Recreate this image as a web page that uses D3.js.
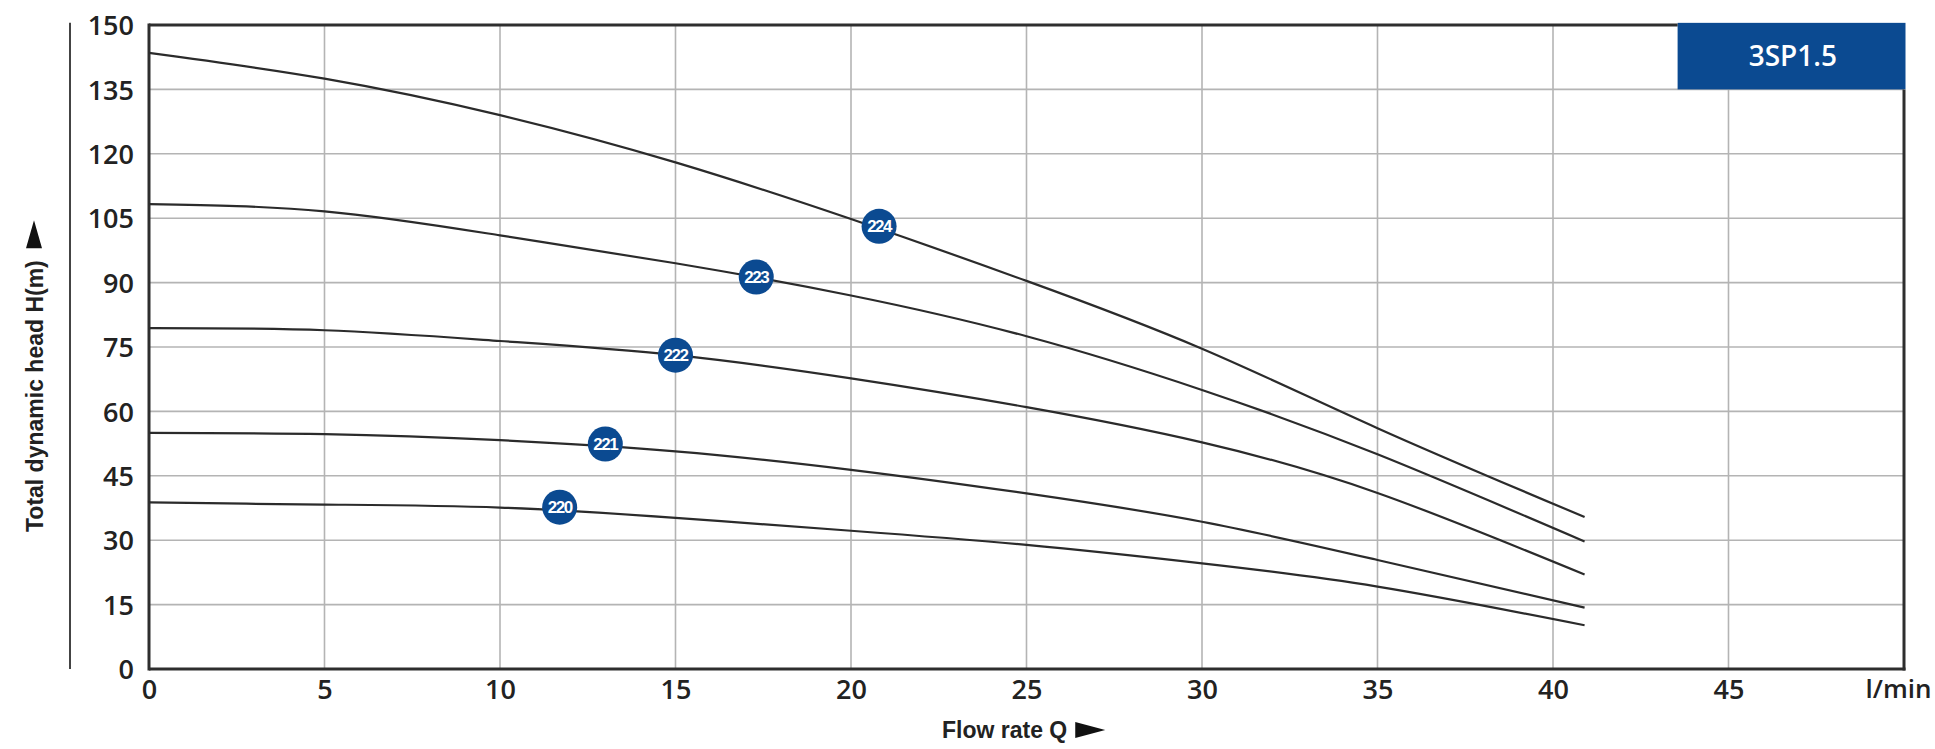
<!DOCTYPE html>
<html>
<head>
<meta charset="utf-8">
<script src="https://cdn.jsdelivr.net/npm/d3@7"></script>
<style>
  html, body { margin: 0; padding: 0; background: #fff; }
  svg { display: block; }
</style>
</head>
<body>
<svg id="chart" width="1935" height="749"></svg>
<script>
// ---- data ----
const modelName = "3SP1.5";
const xTicks = [0, 5, 10, 15, 20, 25, 30, 35, 40, 45, 50];
const xTickLabels = ["0", "5", "10", "15", "20", "25", "30", "35", "40", "45", "l/min"];
const yTicks = [0, 15, 30, 45, 60, 75, 90, 105, 120, 135, 150];
const xTitle = "Flow rate Q";
const yTitle = "Total dynamic head H(m)";

const seriesNames = ["220", "221", "222", "223", "224"];
const flow = [0, 5, 10, 15, 20, 25, 30, 35, 40.9];
const head220 = [38.8, 38.3, 37.6, 35.2, 32.2, 28.9, 24.6, 19.2, 10.2];
const head221 = [55.0, 54.7, 53.3, 50.7, 46.4, 40.9, 34.3, 25.4, 14.3];
const head222 = [79.4, 78.9, 76.4, 73.1, 67.7, 61.0, 52.8, 41.0, 22.0];
const head223 = [108.3, 106.6, 101.0, 94.5, 87.0, 77.5, 65.0, 50.0, 29.7];
const head224 = [143.5, 137.5, 129.0, 118.0, 104.8, 90.4, 74.6, 56.1, 35.4];
const labelFlow = [11.7, 13.0, 15.0, 17.3, 20.8];
const labelHead = [37.7, 52.4, 73.1, 91.3, 103.1];

// ---- layout ----
const svg = d3.select("#chart");
const x = d3.scaleLinear().domain([0, 50]).range([149, 1904]);
const y = d3.scaleLinear().domain([0, 150]).range([669, 25]);

const blue = "#0b4a91";
const frameColor = "#2e2e2e";
const gridColor = "#b4b4b4";

// gridlines
const grid = svg.append("g");
grid.selectAll(".vg").data(xTicks.filter(d => d > 0 && d < 50)).join("line")
  .attr("x1", d => x(d)).attr("x2", d => x(d))
  .attr("y1", y(0)).attr("y2", y(150))
  .attr("stroke", gridColor).attr("stroke-width", 1.6);
grid.selectAll(".hg").data(yTicks.filter(d => d > 0 && d < 150)).join("line")
  .attr("x1", x(0)).attr("x2", x(50))
  .attr("y1", d => y(d)).attr("y2", d => y(d))
  .attr("stroke", gridColor).attr("stroke-width", 1.6);

// model box
const boxX0 = x(43.55), boxX1 = x(50), boxY0 = y(150.5), boxY1 = y(135);
svg.append("rect")
  .attr("x", boxX0).attr("y", boxY0)
  .attr("width", boxX1 - boxX0 + 1.5).attr("height", boxY1 - boxY0)
  .attr("fill", blue);
svg.append("text")
  .attr("x", (boxX0 + boxX1) / 2 + 2).attr("y", (boxY0 + boxY1) / 2 + 10)
  .attr("text-anchor", "middle")
  .attr("font-family", "'Open Sans', sans-serif")
  .attr("font-weight", 600).attr("font-size", 28)
  .attr("fill", "#fff")
  .text(modelName);

// frame
const frame = svg.append("g").attr("stroke", frameColor).attr("stroke-width", 3).attr("fill", "none");
frame.append("line").attr("x1", x(0)).attr("x2", x(0)).attr("y1", y(150) - 1.5).attr("y2", y(0) + 1.5);
frame.append("line").attr("x1", x(0)).attr("x2", x(50) + 1.5).attr("y1", y(0)).attr("y2", y(0));
frame.append("line").attr("x1", x(0)).attr("x2", boxX0).attr("y1", y(150)).attr("y2", y(150));
frame.append("line").attr("x1", x(50)).attr("x2", x(50)).attr("y1", boxY1).attr("y2", y(0) + 1.5);

// separate y-axis line
svg.append("line")
  .attr("x1", 70).attr("x2", 70).attr("y1", y(150.5)).attr("y2", y(0))
  .attr("stroke", "#444").attr("stroke-width", 2);

// curves
const allHeads = [head220, head221, head222, head223, head224];
const line = d3.line()
  .x((d, i) => x(flow[i]))
  .y(d => y(d))
  .curve(d3.curveNatural);
svg.append("g").selectAll("path").data(allHeads).join("path")
  .attr("d", d => line(d))
  .attr("fill", "none")
  .attr("stroke", "#2b2b2b")
  .attr("stroke-width", 2.2);

// labels on curves
const lab = svg.append("g").selectAll("g").data(seriesNames).join("g")
  .attr("transform", (d, i) => `translate(${x(labelFlow[i])},${y(labelHead[i])})`);
lab.append("circle").attr("r", 17.5).attr("fill", blue);
lab.append("text")
  .attr("text-anchor", "middle").attr("dy", 6)
  .attr("font-family", "'Liberation Sans', Arial, sans-serif")
  .attr("font-weight", "bold").attr("font-size", 17)
  .attr("letter-spacing", -1.5)
  .attr("fill", "#fff")
  .text(d => d);

// axes
const tickFont = "'Open Sans', sans-serif";
const yAxis = svg.append("g").attr("transform", `translate(${x(0) - 15},0)`)
  .call(d3.axisLeft(y).tickValues(yTicks).tickSize(0).tickPadding(0).tickFormat(d3.format("d")));
yAxis.select(".domain").remove();
yAxis.selectAll("text")
  .attr("font-family", tickFont).attr("font-weight", 600).attr("font-size", 27)
  .attr("fill", "#222").attr("dy", "0.36em");

const xAxis = svg.append("g").attr("transform", `translate(0,${y(0) + 11})`)
  .call(d3.axisBottom(x).tickValues(xTicks).tickSize(0).tickPadding(0)
    .tickFormat((d, i) => xTickLabels[i]));
xAxis.select(".domain").remove();
xAxis.selectAll("text")
  .attr("font-family", tickFont).attr("font-weight", 600).attr("font-size", 27)
  .attr("fill", "#222").attr("dy", "0.71em");
// unit label sits at the right end, kept inside the page
xAxis.selectAll(".tick").filter(d => d === 50).select("text")
  .attr("text-anchor", "end").attr("x", 1931 - x(50)).attr("font-size", 26);

// axis titles
const titleFont = "'Liberation Sans', Arial, sans-serif";
const xt = svg.append("text")
  .attr("x", 942).attr("y", 738)
  .attr("font-family", titleFont).attr("font-weight", "bold").attr("font-size", 23)
  .attr("fill", "#222")
  .text(xTitle);
const xtw = xt.node().getComputedTextLength();
svg.append("path")
  .attr("d", `M${942 + xtw + 8},${722} L${942 + xtw + 38},${730} L${942 + xtw + 8},${738} Z`)
  .attr("fill", "#111");

const ytg = svg.append("g").attr("transform", `translate(43,532) rotate(-90)`);
const yt = ytg.append("text")
  .attr("x", 0).attr("y", 0)
  .attr("font-family", titleFont).attr("font-weight", "bold").attr("font-size", 23)
  .attr("fill", "#222")
  .text(yTitle);
const ytw = yt.node().getComputedTextLength();
ytg.append("path")
  .attr("d", `M${ytw + 12},${-1} L${ytw + 40},${-9} L${ytw + 12},${-17} Z`)
  .attr("fill", "#111");
</script>
</body>
</html>
